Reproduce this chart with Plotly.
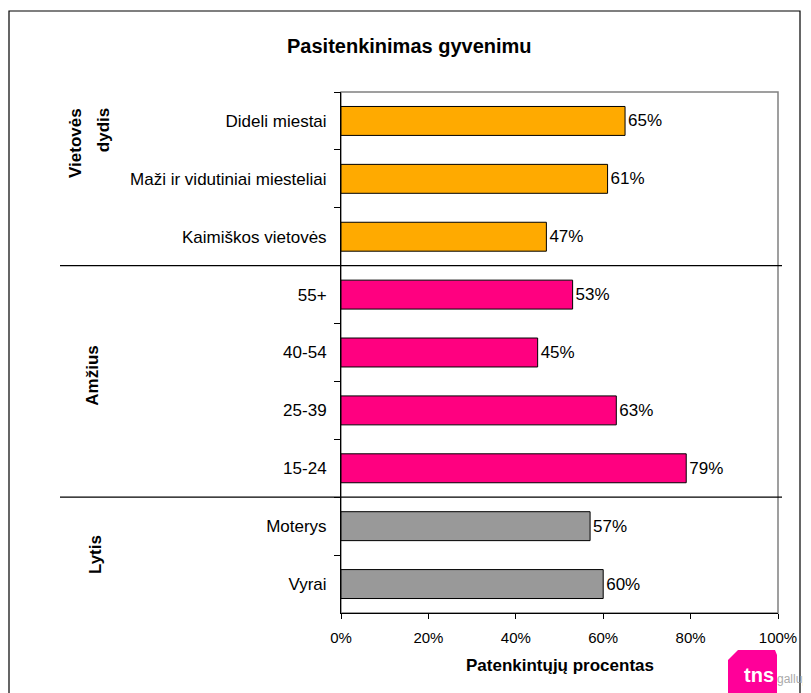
import plotly.graph_objects as go

categories = ["Dideli miestai", "Maži ir vidutiniai miesteliai", "Kaimiškos vietovės",
              "55+", "40-54", "25-39", "15-24", "Moterys", "Vyrai"]
values = [65, 61, 47, 53, 45, 63, 79, 57, 60]
groups = ["Vietovė", "Vietovė", "Vietovė", "Amžius", "Amžius", "Amžius", "Amžius", "Lytis", "Lytis"]
group_colors = {"Vietovė": "#FFAA00", "Amžius": "#FF0080", "Lytis": "#999999"}
colors = [group_colors[g] for g in groups]
x_ticks = [0, 20, 40, 60, 80, 100]
x_tick_labels = ["0%", "20%", "40%", "60%", "80%", "100%"]

FONT = "Liberation Sans, Arial, sans-serif"
OFF = 8  # page body margin
W, H = 811 - OFF, 693 - OFF
PX0, PX1, PY0, PY1 = 341, 778, 92, 613
L, R, T, B = PX0 - OFF, W - (PX1 - OFF), PY0 - OFF, H - (PY1 - OFF)
pw, ph = PX1 - PX0, PY1 - PY0

def px(x):
    return (x - PX0) / pw

def py(y):
    return 1 - (y - PY0) / ph

fig = go.Figure(go.Bar(
    y=categories, x=values, orientation="h",
    marker=dict(color=colors, line=dict(color="black", width=1)),
    width=0.5,
    text=[f"{v}%" for v in values], textposition="outside",
    textfont=dict(family=FONT, size=17, color="black"),
    cliponaxis=False,
))

shapes = []
shapes.append(dict(type="rect", xref="paper", yref="paper",
                   x0=px(9), x1=px(800), y0=py(710), y1=py(11),
                   line=dict(color="black", width=1.2), layer="below"))
shapes.append(dict(type="rect", xref="paper", yref="paper", x0=0, x1=1, y0=0, y1=1,
                   line=dict(color="#808080", width=1.5), layer="below"))
for yb in [2.5, 6.5]:
    shapes.append(dict(type="line", xref="paper", yref="y",
                       x0=px(60), x1=px(782), y0=yb, y1=yb,
                       line=dict(color="black", width=1.2)))
# tns logo
pts = [(738, 650), (775, 650), (777, 655), (777, 693), (728, 693), (728, 660)]
path = "M " + " L ".join(f"{px(a)} {py(b)}" for a, b in pts) + " Z"
shapes.append(dict(type="path", xref="paper", yref="paper", path=path,
                   fillcolor="#FF0099", line=dict(width=0)))

def ann(text, x, y, size, yref="paper", angle=0, color="black", xanchor="center", family=FONT):
    return dict(text=text, xref="paper", yref=yref, x=x, y=y, showarrow=False,
                textangle=angle, xanchor=xanchor, yanchor="middle",
                font=dict(family=family, size=size, color=color))

annotations = [
    ann("<b>Pasitenkinimas gyvenimu</b>", px(409), py(46), 20),
    ann("<b>Patenkintųjų procentas</b>", px(560), py(665), 17),
    ann("<b>Vietovės</b>", px(76), 0.38, 17, yref="y", angle=-90),
    ann("<b>dydis</b>", px(103), 0.16, 17, yref="y", angle=-90),
    ann("<b>Amžius</b>", px(93), 4.4, 17, yref="y", angle=-90),
    ann("<b>Lytis</b>", px(95), 7.5, 17, yref="y", angle=-90),
    ann("<b>tns</b>", px(759), py(675), 20, color="white"),
    ann("gallup", px(775), py(679), 12, color="#AAAAAA", xanchor="left"),
]

fig.update_layout(
    width=W, height=H,
    margin=dict(l=L, r=R, t=T, b=B, autoexpand=False),
    paper_bgcolor="white", plot_bgcolor="white",
    showlegend=False,
    shapes=shapes, annotations=annotations,
    xaxis=dict(range=[0, 100], tickvals=x_ticks, ticktext=x_tick_labels,
               showgrid=False, zeroline=False, showline=True, linecolor="black", linewidth=1,
               ticks="outside", ticklen=5, tickcolor="black", ticklabelstandoff=6,
               tickfont=dict(family=FONT, size=15, color="black"), fixedrange=True),
    yaxis=dict(categoryorder="array", categoryarray=categories, autorange="reversed",
               type="category", tickson="boundaries",
               showgrid=False, zeroline=False, showline=True, linecolor="black", linewidth=1,
               ticks="outside", ticklen=6, tickcolor="black", ticklabelstandoff=10,
               tickfont=dict(family=FONT, size=17, color="black"), fixedrange=True),
)

fig.write_html("out.html")
